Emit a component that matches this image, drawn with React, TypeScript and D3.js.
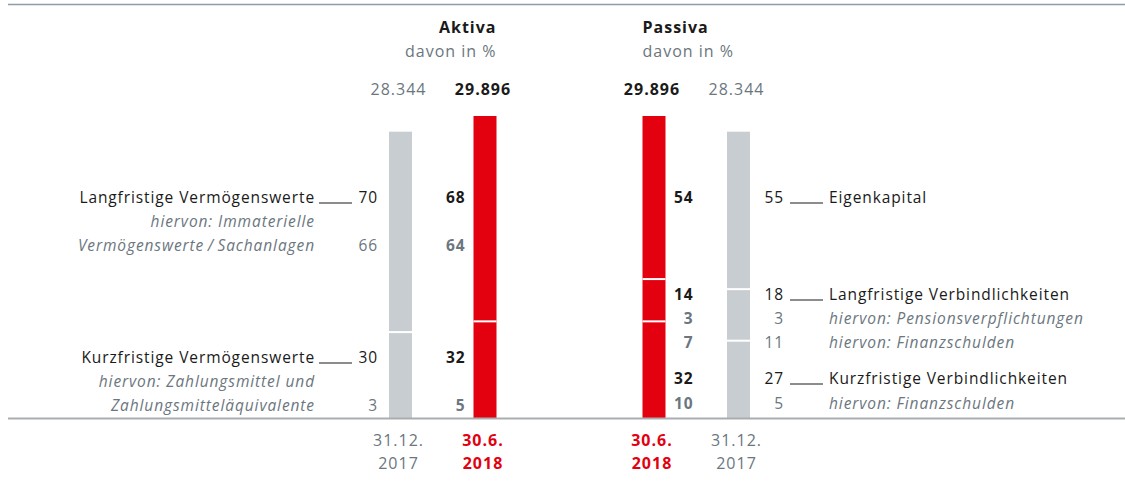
import * as d3 from "d3";

// Totals (Mio. €) per column
const TOTAL_2018 = 29896;
const TOTAL_2017 = 28344;

// Segment shares in % (top to bottom)
const aktiva2017 = [70, 30];
const aktiva2018 = [68, 32];
const passiva2018 = [54, 14, 32];
const passiva2017 = [55, 18, 27];

// Left side text rows
const aktivaLabels = [
  "Langfristige Vermögenswerte",
  "hiervon: Immaterielle",
  "Vermögenswerte\u2009/\u2009Sachanlagen",
  "Kurzfristige Vermögenswerte",
  "hiervon: Zahlungsmittel und",
  "Zahlungsmitteläquivalente",
];
const aktivaMain = [true, false, false, true, false, false];
const aktivaVal2017 = ["70", "", "66", "30", "", "3"];
const aktivaVal2018 = ["68", "", "64", "32", "", "5"];

// Right side text rows
const passivaLabels = [
  "Eigenkapital",
  "Langfristige Verbindlichkeiten",
  "hiervon: Pensionsverpflichtungen",
  "hiervon: Finanzschulden",
  "Kurzfristige Verbindlichkeiten",
  "hiervon: Finanzschulden",
];
const passivaMain = [true, true, false, false, true, false];
const passivaVal2018 = ["54", "14", "3", "7", "32", "10"];
const passivaVal2017 = ["55", "18", "3", "11", "27", "5"];

const W = 1125;
const H = 490;
const RED = "#e3000f";
const GREYBAR = "#c8cdd1";
const GREYTXT = "#6b767e";
const DARK = "#1a1a1a";
const FONT = "'Open Sans', sans-serif";
const FS = 15.5;
const LS = 0.9;

const baseY = 418;
const y = d3.scaleLinear().domain([0, TOTAL_2018]).range([baseY, 116]);
// columns: 0 = Aktiva 2017, 1 = Aktiva 2018, 3 = Passiva 2018, 4 = Passiva 2017
const x = d3.scaleLinear().domain([0, 4]).range([389, 727]);
const barW = 23;

const leftRowsY = [203, 227, 251, 363, 387, 411];
const rightRowsY = [203, 300, 324, 348, 384, 409];

const fmt = (v: number) => d3.format(",")(v).replace(",", ".");

function segments(shares: number[], total: number) {
  const top = y(total);
  const h = baseY - top;
  let acc = 0;
  return shares.map((s) => {
    const y0 = top + (acc / 100) * h;
    acc += s;
    const y1 = top + (acc / 100) * h;
    return { y0, y1 };
  });
}

function Bar({ col, shares, total, color }: { col: number; shares: number[]; total: number; color: string }) {
  const segs = segments(shares, total);
  return (
    <g>
      <rect x={x(col)} y={y(total)} width={barW} height={baseY - y(total)} fill={color} />
      {segs.slice(1).map((s, i) => (
        <line key={i} x1={x(col)} x2={x(col) + barW} y1={s.y0} y2={s.y0} stroke="#fff" strokeWidth={2} />
      ))}
    </g>
  );
}

export default function App() {
  const cx = (c: number) => x(c) + barW / 2 - 2;
  return (
    <svg width={W} height={H} style={{ position: "absolute", left: 0, top: 0, background: "#fff" }} fontFamily={FONT}>
      <line x1={8} x2={W} y1={4.5} y2={4.5} stroke="#8e9ca5" strokeWidth={1.5} />

      {/* headings */}
      <g fontSize={16} letterSpacing={1}>
        <text x={x(1) + barW} y={33} textAnchor="end" fontWeight={700} fill={DARK}>Aktiva</text>
        <text x={x(1) + barW} y={57} textAnchor="end" fill={GREYTXT}>davon in %</text>
        <text x={x(3)} y={33} fontWeight={700} fill={DARK}>Passiva</text>
        <text x={x(3)} y={57} fill={GREYTXT}>davon in %</text>
      </g>

      {/* totals */}
      <g fontSize={16} letterSpacing={1} textAnchor="middle">
        <text x={cx(0)} y={95} fill={GREYTXT}>{fmt(TOTAL_2017)}</text>
        <text x={cx(1)} y={95} fontWeight={700} fill={DARK}>{fmt(TOTAL_2018)}</text>
        <text x={cx(3)} y={95} fontWeight={700} fill={DARK}>{fmt(TOTAL_2018)}</text>
        <text x={cx(4)} y={95} fill={GREYTXT}>{fmt(TOTAL_2017)}</text>
      </g>

      <Bar col={0} shares={aktiva2017} total={TOTAL_2017} color={GREYBAR} />
      <Bar col={1} shares={aktiva2018} total={TOTAL_2018} color={RED} />
      <Bar col={3} shares={passiva2018} total={TOTAL_2018} color={RED} />
      <Bar col={4} shares={passiva2017} total={TOTAL_2017} color={GREYBAR} />

      {/* left labels */}
      <g fontSize={FS} letterSpacing={LS}>
        {aktivaLabels.map((t, i) => (
          <g key={i}>
            <text x={315} y={leftRowsY[i]} textAnchor="end"
              fontStyle={aktivaMain[i] ? "normal" : "italic"} fill={aktivaMain[i] ? DARK : GREYTXT}>{t}</text>
            {aktivaMain[i] && <line x1={319} x2={352} y1={leftRowsY[i]} y2={leftRowsY[i]} stroke={DARK} strokeWidth={1} />}
            <text x={378} y={leftRowsY[i]} textAnchor="end" fill={aktivaMain[i] ? DARK : GREYTXT}>{aktivaVal2017[i]}</text>
            <text x={x(1) - 8} y={leftRowsY[i]} textAnchor="end" fontWeight={700} fill={aktivaMain[i] ? DARK : GREYTXT}>{aktivaVal2018[i]}</text>
          </g>
        ))}
      </g>

      {/* right labels */}
      <g fontSize={FS} letterSpacing={LS}>
        {passivaLabels.map((t, i) => (
          <g key={i}>
            <text x={x(3) + barW + 28} y={rightRowsY[i]} textAnchor="end" fontWeight={700}
              fill={passivaMain[i] ? DARK : GREYTXT}>{passivaVal2018[i]}</text>
            <text x={x(4) + barW + 34} y={rightRowsY[i]} textAnchor="end"
              fill={passivaMain[i] ? DARK : GREYTXT}>{passivaVal2017[i]}</text>
            {passivaMain[i] && <line x1={790} x2={823} y1={rightRowsY[i]} y2={rightRowsY[i]} stroke={DARK} strokeWidth={1} />}
            <text x={829} y={rightRowsY[i]}
              fontStyle={passivaMain[i] ? "normal" : "italic"} fill={passivaMain[i] ? DARK : GREYTXT}>{t}</text>
          </g>
        ))}
      </g>

      <line x1={8} x2={W} y1={baseY + 0.5} y2={baseY + 0.5} stroke="#a9adb0" strokeWidth={2} />

      {/* dates */}
      {[
        { c: 0, l1: "31.12.", l2: "2017", red: false },
        { c: 1, l1: "30.6.", l2: "2018", red: true },
        { c: 3, l1: "30.6.", l2: "2018", red: true },
        { c: 4, l1: "31.12.", l2: "2017", red: false },
      ].map((d, i) => (
        <g key={i} fontSize={16} fontWeight={d.red ? 700 : 400} fill={d.red ? RED : GREYTXT} textAnchor="middle" letterSpacing={1}>
          <text x={cx(d.c)} y={446}>{d.l1}</text>
          <text x={cx(d.c)} y={469}>{d.l2}</text>
        </g>
      ))}
    </svg>
  );
}
